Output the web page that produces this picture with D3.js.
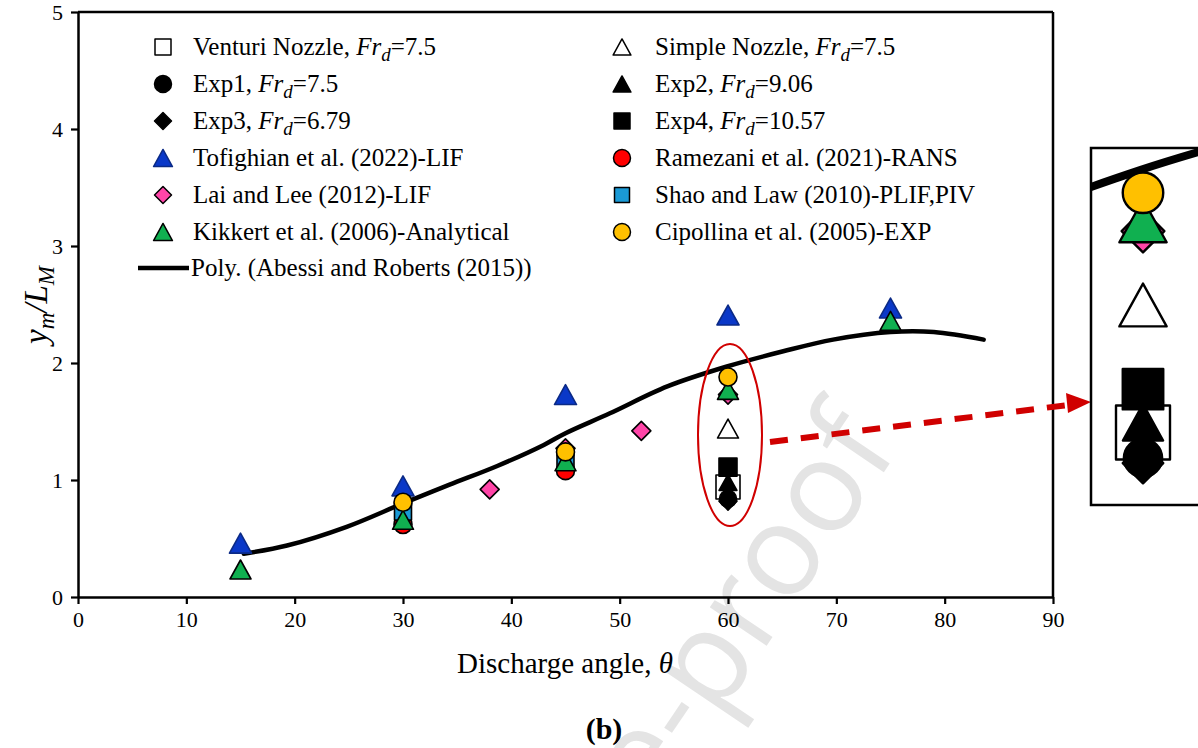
<!DOCTYPE html>
<html><head><meta charset="utf-8">
<script src="https://cdn.jsdelivr.net/npm/d3@7"></script>
<style>body{margin:0;background:#fff}svg{display:block}</style>
</head><body>
<svg id="chart" width="1198" height="748"></svg>
<script>
// ---------- data ----------
const xTicks = [0,10,20,30,40,50,60,70,80,90];
const yTicks = [0,1,2,3,4,5];

const venturiX = [60], venturiY = [0.94];
const simpleX = [60], simpleY = [1.44];
const exp1X = [60], exp1Y = [0.84];
const exp2X = [60], exp2Y = [0.98];
const exp3X = [60], exp3Y = [0.82];
const exp4X = [60], exp4Y = [1.11];
const tofighianX = [15,30,45,60,75], tofighianY = [0.46,0.95,1.73,2.41,2.47];
const ramezaniX = [30,45], ramezaniY = [0.62,1.08];
const laiX = [38,45,52,60], laiY = [0.92,1.27,1.42,1.73];
const shaoX = [30,45], shaoY = [0.73,1.18];
const kikkertX = [15,30,45,60,75], kikkertY = [0.235,0.66,1.16,1.77,2.36];
const cipollinaX = [30,45,60], cipollinaY = [0.81,1.24,1.88];

const polyX = [15.3,19.3,24.8,30.0,34.3,38.7,43.0,45.0,49.1,54.4,59.9,65.1,69.7,75.0,79.0,83.6];
const polyY = [0.37,0.44,0.60,0.80,0.96,1.12,1.30,1.40,1.57,1.80,1.97,2.10,2.20,2.265,2.265,2.20];

// ---------- styles ----------
const series = [
  {x:venturiX, y:venturiY, shape:"square", size:24, fill:"#fff", stroke:"#000", lsize:16, label:["Venturi Nozzle, ","7.5"]},
  {x:simpleX, y:simpleY, shape:"triangle", size:20, fill:"#fff", stroke:"#000", lsize:17, label:["Simple Nozzle, ","7.5"]},
  {x:exp1X, y:exp1Y, shape:"circle", size:17, fill:"#000", stroke:"#000", lsize:17, label:["Exp1, ","7.5"]},
  {x:exp2X, y:exp2Y, shape:"triangle", size:17, fill:"#000", stroke:"#000", lsize:17, label:["Exp2, ","9.06"]},
  {x:exp3X, y:exp3Y, shape:"diamond", size:18, fill:"#000", stroke:"#000", lsize:17, label:["Exp3, ","6.79"]},
  {x:exp4X, y:exp4Y, shape:"square", size:18, fill:"#000", stroke:"#000", lsize:16, label:["Exp4, ","10.57"]},
  {x:tofighianX, y:tofighianY, shape:"triangle", size:21, fill:"#0a38c8", stroke:"#0b2a86", lsize:18, label:"Tofighian et al. (2022)-LIF"},
  {x:ramezaniX, y:ramezaniY, shape:"circle", size:18, fill:"#ff0000", stroke:"#000", lsize:17, label:"Ramezani et al. (2021)-RANS"},
  {x:laiX, y:laiY, shape:"diamond", size:19, fill:"#ff45a8", stroke:"#000", lsize:17, label:"Lai and Lee (2012)-LIF"},
  {x:shaoX, y:shaoY, shape:"square", size:17, fill:"#1a9ad6", stroke:"#000", lsize:15, label:"Shao and Law (2010)-PLIF,PIV"},
  {x:kikkertX, y:kikkertY, shape:"triangle", size:20, fill:"#10b050", stroke:"#000", lsize:18, label:"Kikkert et al. (2006)-Analytical"},
  {x:cipollinaX, y:cipollinaY, shape:"circle", size:18, fill:"#ffc000", stroke:"#000", lsize:17, label:"Cipollina et al. (2005)-EXP"}
];
const legendOrder = [0,1,2,3,4,5,6,7,8,9,10,11];

function shapePath(shape, s){
  const h = s/2;
  if(shape==="square") return `M${-h},${-h}H${h}V${h}H${-h}Z`;
  if(shape==="circle") return `M${h},0A${h},${h} 0 1,1 ${-h},0A${h},${h} 0 1,1 ${h},0Z`;
  if(shape==="diamond") return `M0,${-h}L${h},0L0,${h}L${-h},0Z`;
  if(shape==="triangle") return `M0,${-h*0.95}L${h*1.05},${h*0.95}L${-h*1.05},${h*0.95}Z`;
}

const svg = d3.select("#chart");
const W = 1198, H = 748;
svg.append("rect").attr("width",W).attr("height",H).attr("fill","#fff");

const pL = 78, pR = 1053, pT = 12, pB = 597;
const x = d3.scaleLinear().domain([0,90]).range([pL,pR]);
const y = d3.scaleLinear().domain([0,5]).range([pB,pT]);

const serif = "Liberation Serif, Times New Roman, serif";

svg.append("text").attr("x",604).attr("y",739).attr("text-anchor","middle")
  .attr("font-family",serif).attr("font-size",30).attr("font-weight","bold").attr("fill","#000").text("(b)");

// watermark
svg.append("text").attr("transform","translate(900,448) rotate(-56)")
  .attr("text-anchor","end").attr("font-family","Open Sans, Liberation Sans, sans-serif")
  .attr("font-size",128).attr("fill","#e4e4e4").text("Journal Pre-proof");

// axes
const xAxis = d3.axisBottom(x).tickValues(xTicks).tickFormat(d3.format("d")).tickSize(7).tickSizeOuter(0).tickPadding(7);
const yAxis = d3.axisLeft(y).tickValues(yTicks).tickFormat(d3.format("d")).tickSize(7).tickSizeOuter(0).tickPadding(8);
const gx = svg.append("g").attr("transform",`translate(0,${pB})`).call(xAxis);
const gy = svg.append("g").attr("transform",`translate(${pL},0)`).call(yAxis);
[gx,gy].forEach(g=>{
  g.select(".domain").attr("stroke","#000").attr("stroke-width",2.5);
  g.selectAll(".tick line").attr("stroke","#000").attr("stroke-width",2.2);
  g.selectAll(".tick text").attr("font-family",serif).attr("font-size",22).attr("fill","#000");
});
svg.append("line").attr("x1",pL).attr("x2",pR).attr("y1",pT).attr("y2",pT).attr("stroke","#000").attr("stroke-width",2.5);
svg.append("line").attr("x1",pR).attr("x2",pR).attr("y1",pT).attr("y2",pB).attr("stroke","#000").attr("stroke-width",2.5);

// axis titles
svg.append("text").attr("x",565).attr("y",673).attr("text-anchor","middle")
  .attr("font-family",serif).attr("font-size",29).attr("fill","#000")
  .html('Discharge angle, <tspan font-style="italic">θ</tspan>');
const yt = svg.append("text").attr("transform","translate(47,305) rotate(-90)").attr("text-anchor","middle")
  .attr("font-family",serif).attr("font-size",33).attr("font-style","italic").attr("fill","#000");
yt.append("tspan").text("y");
yt.append("tspan").attr("dy",7).attr("font-size",23).text("m");
yt.append("tspan").attr("dy",-7).text("/L");
yt.append("tspan").attr("dy",7).attr("font-size",23).text("M");

// poly line
const line = d3.line().x((d,i)=>x(polyX[i])).y((d,i)=>y(polyY[i])).curve(d3.curveCatmullRom.alpha(0.5));
svg.append("path").datum(polyX).attr("d",line).attr("fill","none").attr("stroke","#000").attr("stroke-width",4.5).attr("stroke-linecap","round");

// markers
function drawMarkers(g, xs, ys, scale, filterFn){
  series.forEach(s=>{
    const pts = s.x.map((v,i)=>({x:v,y:s.y[i]})).filter(filterFn||(()=>true));
    g.selectAll(null).data(pts).enter().append("path")
      .attr("d",shapePath(s.shape,s.size*scale))
      .attr("transform",d=>`translate(${xs(d.x)},${ys(d.y)})`)
      .attr("fill",s.fill).attr("stroke",s.stroke).attr("stroke-width",1.6*Math.sqrt(scale))
      .attr("stroke-linejoin","round");
  });
}
drawMarkers(svg.append("g"), x, y, 1);

// ellipse annotation
svg.append("ellipse").attr("cx",x(60)+2).attr("cy",y(1.385)).attr("rx",32).attr("ry",91)
  .attr("fill","none").attr("stroke","#d00000").attr("stroke-width",2);

// dashed arrow
svg.append("line").attr("x1",770).attr("y1",442).attr("x2",1068).attr("y2",405)
  .attr("stroke","#d00000").attr("stroke-width",6).attr("stroke-dasharray","18,13");
svg.append("path").attr("d","M1091,402L1066,393L1068,413Z").attr("fill","#d00000");

// inset
const ix0 = 1091, iy0 = 148, iy1 = 505;
svg.append("clipPath").attr("id","insetClip").append("rect").attr("x",ix0).attr("y",iy0).attr("width",W-ix0+10).attr("height",iy1-iy0);
const xi = d3.scaleLinear().domain([60,61]).range([1143,1164.4]);
const yi = d3.scaleLinear().domain([1.44,2.44]).range([305,50]);
const ig = svg.append("g").attr("clip-path","url(#insetClip)");
ig.append("rect").attr("x",ix0).attr("y",iy0).attr("width",W-ix0+10).attr("height",iy1-iy0).attr("fill","#fff");
const lineI = d3.line().x((d,i)=>xi(polyX[i])).y((d,i)=>yi(polyY[i])).curve(d3.curveCatmullRom.alpha(0.5));
ig.append("path").datum(polyX).attr("d",lineI).attr("fill","none").attr("stroke","#000").attr("stroke-width",8);
drawMarkers(ig, xi, yi, 2.25, d=>d.x===60);
svg.append("rect").attr("x",ix0).attr("y",iy0).attr("width",W-ix0+10).attr("height",iy1-iy0)
  .attr("fill","none").attr("stroke","#000").attr("stroke-width",2.5);

// legend
const rowY = [47,84,121,158,195,232,268];
const colMX = [163,622], colTX = [193,655];
legendOrder.forEach((si,k)=>{
  const s = series[si];
  const col = k%2, row = Math.floor(k/2);
  const cy = rowY[row];
  svg.append("path").attr("d",shapePath(s.shape,s.lsize)).attr("transform",`translate(${colMX[col]},${cy})`)
    .attr("fill",s.fill).attr("stroke",s.stroke).attr("stroke-width",1.5).attr("stroke-linejoin","round");
  const t = svg.append("text").attr("x",colTX[col]).attr("y",cy+8).attr("font-family",serif).attr("font-size",25).attr("fill","#000");
  if(Array.isArray(s.label)){
    t.append("tspan").text(s.label[0]);
    t.append("tspan").attr("font-style","italic").text("Fr");
    t.append("tspan").attr("font-style","italic").attr("font-size",19).attr("dy",6).text("d");
    t.append("tspan").attr("dy",-6).text("=" + s.label[1]);
  } else t.text(s.label);
});
svg.append("line").attr("x1",138).attr("x2",189).attr("y1",rowY[6]).attr("y2",rowY[6]).attr("stroke","#000").attr("stroke-width",4.5);
svg.append("text").attr("x",191).attr("y",rowY[6]+8).attr("font-family",serif).attr("font-size",25).attr("fill","#000")
  .text("Poly. (Abessi and Roberts (2015))");
</script>
</body></html>
